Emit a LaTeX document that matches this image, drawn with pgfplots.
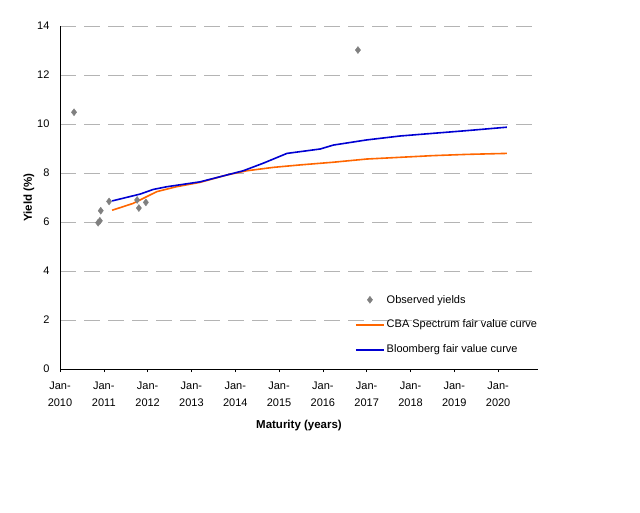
\documentclass[border=0pt]{standalone}
\usepackage{pgfplots}
\pgfplotsset{compat=1.18}
\usepackage{fontspec}
\setmainfont{Liberation Sans}
\definecolor{cborange}{RGB}{255,102,0}
\definecolor{bbblue}{RGB}{0,0,210}
\definecolor{ptgray}{RGB}{128,128,128}
\definecolor{gridgray}{RGB}{180,180,180}
\pgfplotsset{
  linelegend/.style={legend image code/.code={\draw[##1] (0pt,0pt) -- (28pt,0pt);}},
  marklegend/.style={legend image code/.code={\draw[mark repeat=2,mark phase=2,##1] plot coordinates {(0pt,0pt) (14pt,0pt) (28pt,0pt)};}},
}
\begin{document}
\begin{tikzpicture}
\useasboundingbox (0,0) rectangle (640pt,512pt);
\begin{axis}[
  at={(60pt,143pt)}, anchor=south west,
  scale only axis, width=478pt, height=343pt,
  xmin=2010, xmax=2020.91, ymin=0, ymax=14,
  axis x line*=bottom, axis y line*=left,
  axis line style={black, line width=0.8pt, -},
  xtick={2010,2011,2012,2013,2014,2015,2016,2017,2018,2019,2020},
  xticklabels={Jan-\\2010,Jan-\\2011,Jan-\\2012,Jan-\\2013,Jan-\\2014,Jan-\\2015,Jan-\\2016,Jan-\\2017,Jan-\\2018,Jan-\\2019,Jan-\\2020},
  xticklabel style={align=center, font=\fontsize{11}{17}\selectfont, yshift=-6pt},
  x tick style={black, line width=0.6pt},
  tick align=outside, major tick length=3pt,
  ytick={0,2,4,6,8,10,12,14},
  y tick style={draw=none},
  yticklabel style={font=\fontsize{11}{13}\selectfont, xshift=-4pt},
  /pgf/number format/assume math mode=true,
  ymajorgrids, major grid style={gridgray, line width=0.8pt, dash pattern=on 16pt off 8pt},
  xlabel={\textbf{Maturity (years)}},
  ylabel={\textbf{Yield (\%)}},
  label style={font=\fontsize{11.5}{13}\selectfont},
  xlabel style={yshift=-7pt},
  ylabel style={yshift=-4pt},
  legend cell align=left,
  legend style={draw=none, fill=none, at={(0.617,0.222)}, anchor=north west,
    font=\fontsize{11}{12}\selectfont, row sep=11.5pt, inner sep=0pt,
    /tikz/every even column/.append style={column sep=4pt}},
  clip=false,
]
\addplot[only marks, mark=diamond*, mark size=3.5pt, color=ptgray, marklegend]
  coordinates {
  (2010.32,10.48) (2010.87,5.97) (2010.91,6.05) (2010.93,6.46)
  (2011.12,6.84) (2011.76,6.90) (2011.80,6.57) (2011.96,6.80)
  (2016.80,13.02)
};
\addlegendentry{Observed yields}
\addplot[color=cborange, line width=1.6pt, mark=none, linelegend]
  coordinates {
  (2011.19,6.48) (2011.67,6.76) (2012.21,7.24) (2012.66,7.44) (2013.20,7.62)
  (2013.81,7.92) (2014.26,8.09) (2014.87,8.23) (2015.48,8.33) (2016.24,8.44)
  (2017.00,8.57) (2017.76,8.64) (2018.52,8.71) (2019.29,8.76) (2020.20,8.80)
};
\addlegendentry{CBA Spectrum fair value curve}
\addplot[color=bbblue, line width=1.6pt, mark=none, linelegend]
  coordinates {
  (2011.19,6.86) (2011.83,7.14) (2012.13,7.33) (2012.44,7.44) (2013.20,7.64)
  (2013.81,7.92) (2014.18,8.09) (2014.64,8.40) (2015.18,8.80) (2015.94,8.98)
  (2016.24,9.14) (2017.00,9.35) (2017.76,9.51) (2018.52,9.62) (2019.29,9.73)
  (2020.20,9.87)
};
\addlegendentry{Bloomberg fair value curve}
\end{axis}
\end{tikzpicture}
\end{document}
